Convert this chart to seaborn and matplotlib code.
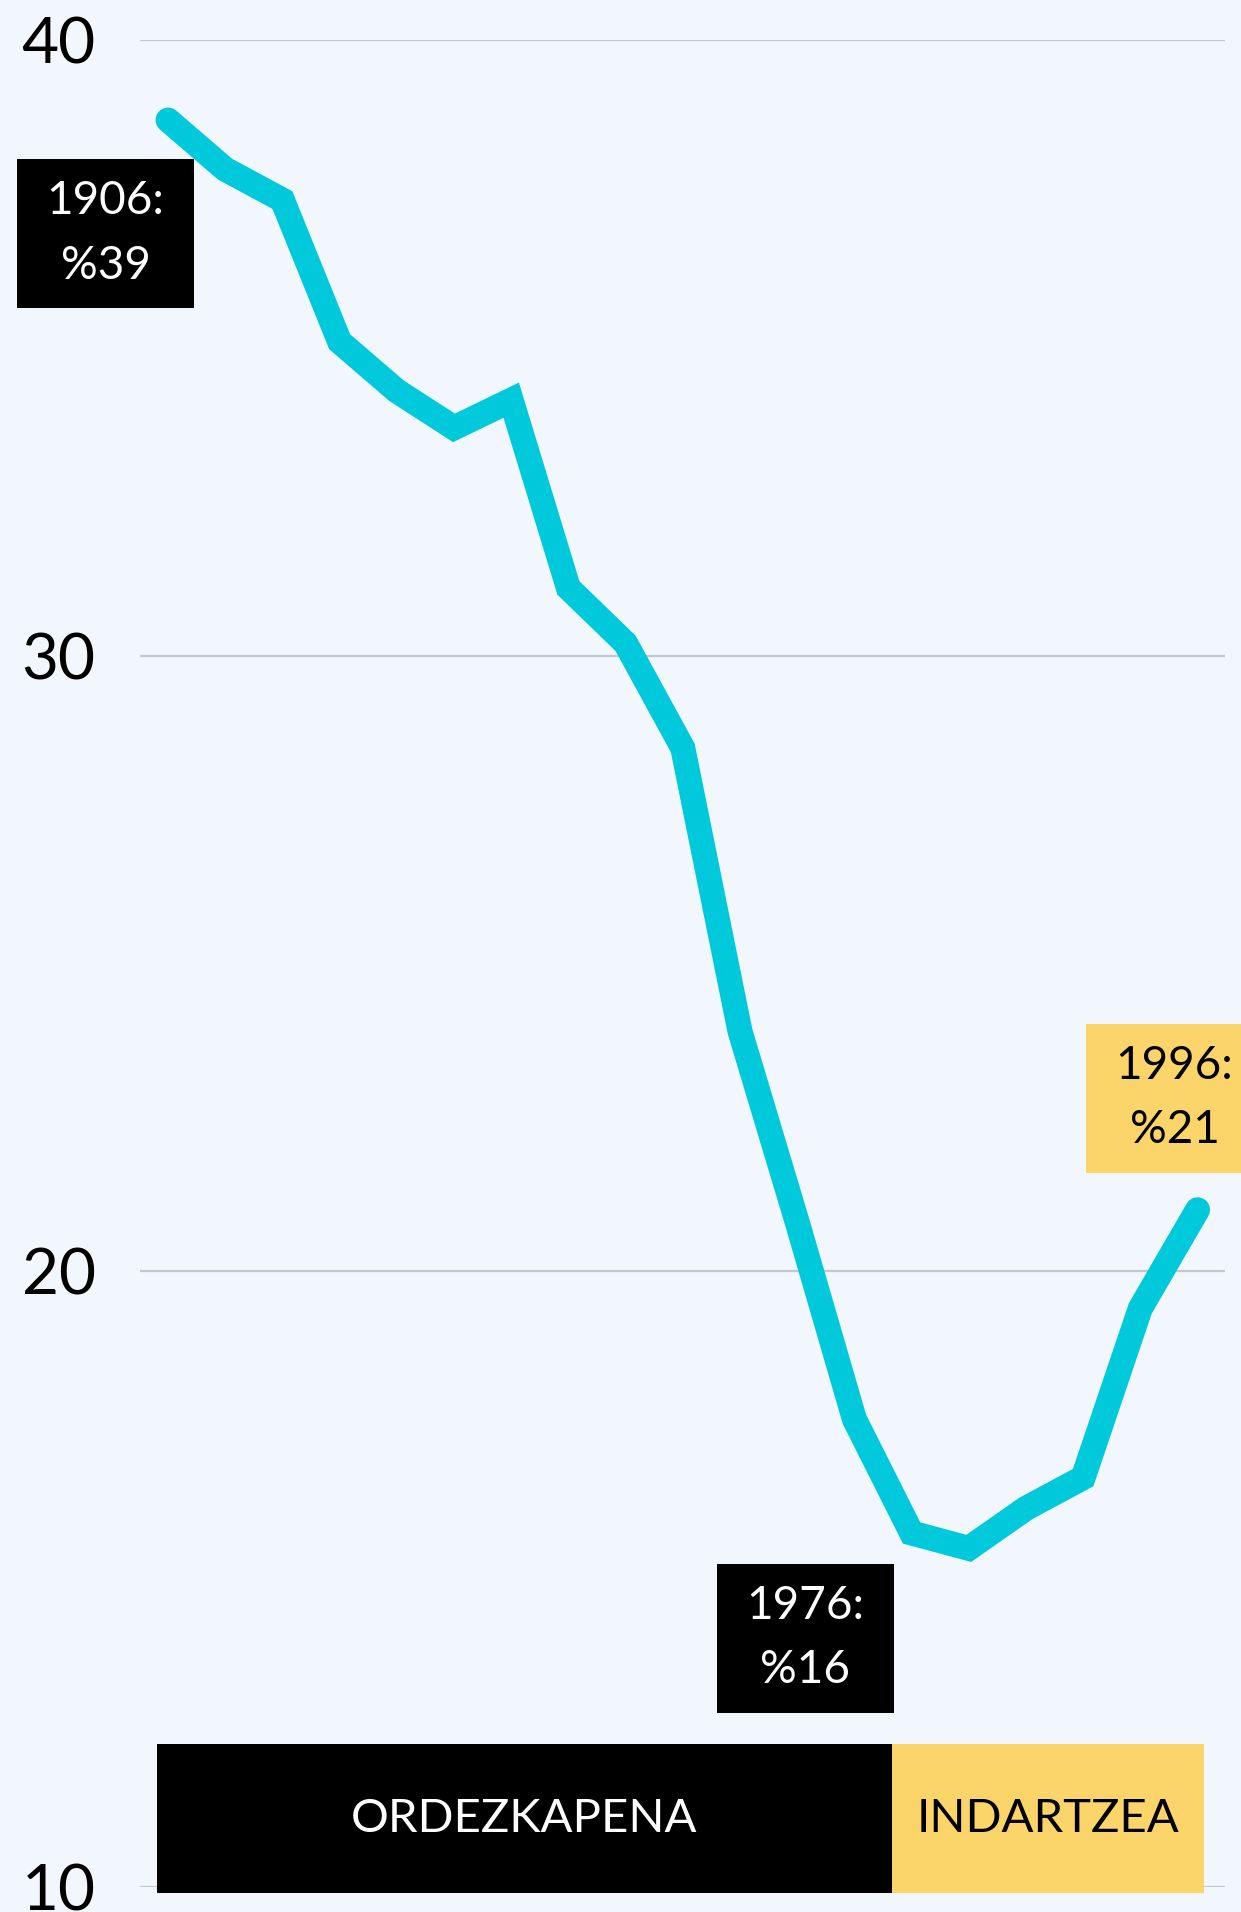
import matplotlib
matplotlib.use("Agg")
import matplotlib.pyplot as plt
import seaborn as sns
import pandas as pd
from matplotlib.offsetbox import DrawingArea, AnnotationBbox
from matplotlib.patches import Rectangle
from matplotlib.text import Text

# ---- data ----
years = [1906, 1911, 1916, 1921, 1926, 1931, 1936, 1941, 1946, 1951,
         1956, 1961, 1966, 1971, 1976, 1981, 1986, 1991, 1996]
values = [38.7, 37.9, 37.4, 35.1, 34.3, 33.7, 34.15, 31.1, 30.2, 28.5,
          23.9, 20.8, 17.6, 15.75, 15.5, 16.15, 16.65, 19.4, 21.0]
y_ticks = [10, 20, 30, 40]

note_years = [1906, 1976, 1996]
note_texts = ["1906:\n%39", "1976:\n%16", "1996:\n%21"]

phase_names = ["ORDEZKAPENA", "INDARTZEA"]
phase_start = [1905.0, 1969.3]
phase_end = [1969.3, 1996.6]

# ---- styles ----
BG = "#f2f7fe"
LINE = "#00c9db"
YELLOW = "#fcd56a"
GRID = "#c3c7d3"
FONT = ["Lato", "DejaVu Sans"]

sns.set_theme(style="white")
plt.rcParams["font.family"] = FONT
plt.rcParams["font.weight"] = "normal"

DPI = 100
fig = plt.figure(figsize=(12.41, 19.12), dpi=DPI, facecolor=BG)
ax = fig.add_axes([140 / 1241, 25 / 1912, 1085 / 1241, 1847 / 1912])
ax.set_facecolor(BG)

df = pd.DataFrame({"year": years, "value": values})

# phase bands
band_colors = ["#000000", YELLOW]
band_text_colors = ["white", "black"]
band_bottom, band_height = 9.9, 2.42
for name, s, e, c, tc in zip(phase_names, phase_start, phase_end, band_colors, band_text_colors):
    ax.bar(s, band_height, width=e - s, bottom=band_bottom, align="edge",
           color=c, edgecolor="none", clip_on=False, zorder=3)
    ax.text((s + e) / 2, band_bottom + band_height / 2, name, ha="center", va="center",
            color=tc, fontsize=34, zorder=4)

sns.lineplot(data=df, x="year", y="value", ax=ax, color=LINE, linewidth=18,
             solid_capstyle="round", solid_joinstyle="miter", zorder=2)

ax.set_xlim(1903.55, 1998.4)
ax.set_ylim(10, 40)
ax.set_yticks(y_ticks)
ax.set_yticklabels([str(t) for t in y_ticks], fontsize=46, color="black")
ax.tick_params(axis="y", length=0, pad=32)
ax.set_xticks([])
ax.set_xlabel("")
ax.set_ylabel("")
for sp in ax.spines.values():
    sp.set_visible(False)
ax.grid(axis="y", color=GRID, linewidth=1.6)
ax.grid(axis="x", visible=False)
ax.set_axisbelow(True)

# annotation boxes
px2pt = 72 / DPI
note_fc = ["#000000", "#000000", YELLOW]
note_tc = ["white", "white", "black"]
note_size = [(177, 149), (177, 149), (177, 149)]
note_offset = [(-62.5, -113.5), (-163.5, -90), (-23, 111.5)]
val_by_year = dict(zip(years, values))
for yr, txt, fc, tc, (w, h), (dx, dy) in zip(note_years, note_texts, note_fc, note_tc,
                                            note_size, note_offset):
    wp, hp = w * px2pt, h * px2pt
    da = DrawingArea(wp, hp, 0, 0, clip=False)
    da.add_artist(Rectangle((0, 0), wp, hp, facecolor=fc, edgecolor="none"))
    t = Text(wp / 2, hp / 2, txt, ha="center", va="center", color=tc, fontsize=33,
             linespacing=1.65, multialignment="center", fontfamily=FONT)
    da.add_artist(t)
    ab = AnnotationBbox(da, (yr, val_by_year[yr]), xybox=(dx * px2pt, dy * px2pt),
                        xycoords="data", boxcoords="offset points", frameon=False,
                        pad=0, box_alignment=(0.5, 0.5), annotation_clip=False, zorder=5)
    ax.add_artist(ab)

fig.savefig("out.png", dpi=DPI, facecolor=BG)
